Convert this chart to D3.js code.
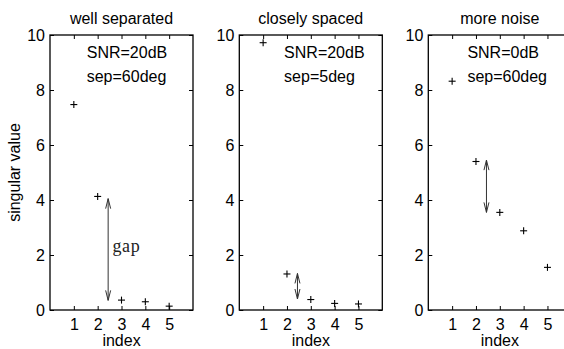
<!DOCTYPE html>
<html>
<head>
<meta charset="utf-8">
<script src="https://cdn.jsdelivr.net/npm/d3@7"></script>
<style>
  body { margin: 0; background: #fff; }
  svg { display: block; font-family: "Liberation Sans", Arial, sans-serif; }
</style>
</head>
<body>
<svg width="564" height="349"></svg>
<script>
// data
var titles = ['well separated', 'closely spaced', 'more noise'];
var snrLabels = ['SNR=20dB', 'SNR=20dB', 'SNR=0dB'];
var sepLabels = ['sep=60deg', 'sep=5deg', 'sep=60deg'];
var indexes = [1, 2, 3, 4, 5];
var sv1 = [7.47, 4.13, 0.36, 0.30, 0.14];
var sv2 = [9.72, 1.31, 0.38, 0.24, 0.22];
var sv3 = [8.32, 5.40, 3.55, 2.88, 1.55];
var gapFrom = [4.05, 1.33, 5.45];
var gapTo = [0.35, 0.40, 3.55];
var gapX = 2.44;
var textX = [1.54, 1.88, 1.64];
var yTicks = [0, 2, 4, 6, 8, 10];

var svg, width, height;
var panelW = 143, panelH = 275, top0 = 35;
var lefts = [50, 239.3, 428.3];

document.addEventListener('DOMContentLoaded', function () {
  svg = d3.select('svg');
  width = +svg.attr('width');
  height = +svg.attr('height');
  var series = [sv1, sv2, sv3];
  for (var i = 0; i < 3; i++) {
    drawPanel(i, series[i]);
  }
});

function drawPanel(i, values) {
  var g = svg.append('g').attr('transform', 'translate(' + lefts[i] + ',' + top0 + ')');
  var x = d3.scaleLinear().domain([0, 6]).range([0, panelW]);
  var y = d3.scaleLinear().domain([0, 10]).range([panelH, 0]);

  // axes, ticks inward on all sides (matlab box)
  var tk = 4;
  var ax = g.append('g').attr('transform', 'translate(0,' + panelH + ')')
    .call(d3.axisBottom(x).tickValues(indexes).tickSize(-tk).tickPadding(9).tickFormat(d3.format('d')));
  var ay = g.append('g')
    .call(d3.axisLeft(y).tickValues(yTicks).tickSize(-tk).tickPadding(5).tickFormat(d3.format('d')));
  var at = g.append('g')
    .call(d3.axisTop(x).tickValues(indexes).tickSize(-tk).tickFormat(''));
  var ar = g.append('g').attr('transform', 'translate(' + panelW + ',0)')
    .call(d3.axisRight(y).tickValues(yTicks).tickSize(-tk).tickFormat(''));
  [ax, ay, at, ar].forEach(function (a) {
    a.select('.domain').remove();
    a.selectAll('line').attr('stroke', '#000').attr('stroke-width', 1);
    a.selectAll('text').attr('fill', '#000').style('font-size', '16px')
      .style('font-family', '"Liberation Sans", Arial, sans-serif');
  });
  g.append('rect').attr('x', 0).attr('y', 0).attr('width', panelW).attr('height', panelH)
    .attr('fill', 'none').attr('stroke', '#000').attr('stroke-width', 1.3);

  // title and labels
  g.append('text').attr('x', panelW / 2).attr('y', -11).attr('text-anchor', 'middle')
    .style('font-size', '16px').text(titles[i]);
  g.append('text').attr('x', panelW / 2).attr('y', panelH + 36).attr('text-anchor', 'middle')
    .style('font-size', '16px').text('index');
  if (i == 0) {
    g.append('text').attr('transform', 'rotate(-90)')
      .attr('x', -panelH / 2).attr('y', -30).attr('text-anchor', 'middle')
      .style('font-size', '16px').text('singular value');
  }
  g.append('text').attr('x', x(textX[i])).attr('y', y(9.15))
    .style('font-size', '16px').text(snrLabels[i]);
  g.append('text').attr('x', x(textX[i])).attr('y', y(8.28))
    .style('font-size', '16px').text(sepLabels[i]);

  // plus markers
  var m = 3.5;
  var pts = g.selectAll('.pt').data(values).enter().append('g')
    .attr('transform', function (d, k) { return 'translate(' + x(indexes[k]) + ',' + y(d) + ')'; });
  pts.append('line').attr('x1', -m).attr('x2', m).attr('y1', 0).attr('y2', 0)
    .attr('stroke', '#000').attr('stroke-width', 1.1);
  pts.append('line').attr('x1', 0).attr('x2', 0).attr('y1', -m).attr('y2', m)
    .attr('stroke', '#000').attr('stroke-width', 1.1);

  // double arrow for the gap
  var ay1 = y(gapFrom[i]), ay2 = y(gapTo[i]), axx = x(gapX);
  var hl = 10, hw = 2.5;
  var arrow = g.append('g').attr('stroke', '#333').attr('stroke-width', 1).attr('fill', 'none');
  arrow.append('line').attr('x1', axx).attr('x2', axx).attr('y1', ay1).attr('y2', ay2);
  arrow.append('path').attr('d', 'M' + (axx - hw) + ',' + (ay1 + hl) + 'L' + axx + ',' + ay1 + 'L' + (axx + hw) + ',' + (ay1 + hl));
  arrow.append('path').attr('d', 'M' + (axx - hw) + ',' + (ay2 - hl) + 'L' + axx + ',' + ay2 + 'L' + (axx + hw) + ',' + (ay2 - hl));

  if (i == 0) {
    g.append('text').attr('x', x(2.62)).attr('y', y(2.1))
      .style('font-family', '"Liberation Serif", serif').style('font-size', '18px')
      .style('letter-spacing', '0.6px').attr('fill', '#222').text('gap');
  }
}
</script>
</body>
</html>
